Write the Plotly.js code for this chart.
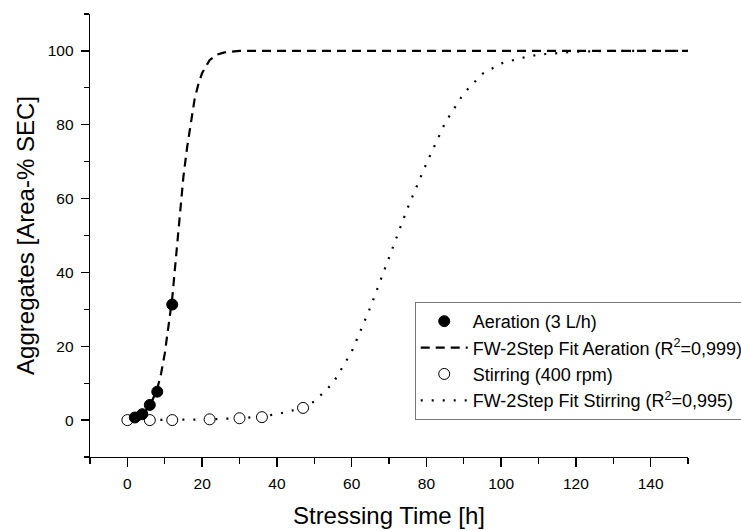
<!DOCTYPE html>
<html>
<head>
<meta charset="utf-8">
<script src="https://cdn.plot.ly/plotly-3.0.1.min.js"></script>
<style>html,body{margin:0;padding:0;background:#fff;}#chart{width:741px;height:531px;}</style>
</head>
<body>
<div id="chart"></div>
<script>
// Measured data
const aerX = [2, 4, 6, 8, 12];
const aerY = [0.7, 1.6, 4.1, 7.7, 31.3];
const stirX = [0, 6, 12, 22, 30, 36, 47];
const stirY = [0, 0, 0, 0.2, 0.5, 0.8, 3.3];

// Fit curves
const aerFitX = [0, 2, 4, 6, 8, 9, 10, 11, 12, 13, 14, 15, 16, 17, 18, 19, 20, 22, 24, 26, 28, 30, 60, 100, 150];
const aerFitY = [0, 0.6, 1.6, 3.8, 8.5, 12.5, 18, 25, 33, 44, 56, 66, 74, 81, 87, 91, 94, 97.5, 99, 99.6, 99.9, 100, 100, 100, 100];
const stirFitX = [0, 10, 20, 30, 35, 40, 45, 50, 55, 60, 65, 70, 75, 80, 85, 90, 95, 100, 105, 110, 115, 120, 130, 150];
const stirFitY = [0, 0.05, 0.15, 0.5, 0.9, 1.6, 2.8, 5, 10, 18.5, 30.5, 44, 57.5, 69.5, 80.5, 88.5, 93.8, 96.6, 98, 99, 99.5, 99.8, 100, 100];

const names = [
  'Aeration (3 L/h)',
  'FW-2Step Fit Aeration (R<sup>2</sup>=0,999)',
  'Stirring (400 rpm)',
  'FW-2Step Fit Stirring (R<sup>2</sup>=0,995)'
];

const traces = [
  {x: stirFitX, y: stirFitY, mode: 'lines', name: names[3], legendrank: 4,
   line: {color: '#000', width: 2.2, dash: '2px,9px'}},
  {x: aerFitX, y: aerFitY, mode: 'lines', name: names[1], legendrank: 2,
   line: {color: '#000', width: 2.2, dash: '9px,6px'}},
  {x: stirX, y: stirY, mode: 'markers', name: names[2], legendrank: 3,
   marker: {symbol: 'circle', size: 11, color: '#fff', line: {color: '#000', width: 1}}},
  {x: aerX, y: aerY, mode: 'markers', name: names[0], legendrank: 1,
   marker: {symbol: 'circle', size: 11, color: '#000', line: {color: '#000', width: 1}}}
];

const font = 'Liberation Sans, Arial, sans-serif';

const layout = {
  width: 741, height: 531,
  margin: {l: 90, r: 53, t: 14, b: 74, autoexpand: false},
  paper_bgcolor: '#fff', plot_bgcolor: '#fff',
  font: {family: font, color: '#000', size: 15},
  showlegend: true,
  legend: {
    x: 0.543, y: 0.35, xanchor: 'left', yanchor: 'top',
    bgcolor: '#fff', bordercolor: '#777', borderwidth: 1,
    font: {family: font, size: 18, color: '#000'},
    traceorder: 'normal', itemwidth: 47, tracegroupgap: 0
  },
  xaxis: {
    range: [-10, 150], tick0: 0, dtick: 20,
    showgrid: false, zeroline: false,
    showline: true, linecolor: '#000', linewidth: 1.3,
    ticks: 'outside', ticklen: 9, tickwidth: 1.3, tickcolor: '#000',
    ticklabelstandoff: 3,
    minor: {tick0: 0, dtick: 10, ticks: 'outside', ticklen: 6, tickwidth: 1.3, tickcolor: '#000', showgrid: false},
    tickfont: {family: font, size: 15.5},
    title: {text: 'Stressing Time [h]', font: {family: font, size: 24}, standoff: 16}
  },
  yaxis: {
    range: [-10, 110], tick0: 0, dtick: 20,
    showgrid: false, zeroline: false,
    showline: true, linecolor: '#000', linewidth: 1.3,
    ticks: 'outside', ticklen: 8, tickwidth: 1.3, tickcolor: '#000',
    ticklabelstandoff: 4,
    minor: {tick0: 0, dtick: 10, ticks: 'outside', ticklen: 4.5, tickwidth: 1.3, tickcolor: '#000', showgrid: false},
    tickfont: {family: font, size: 15.5},
    title: {text: 'Aggregates [Area-% SEC]', font: {family: font, size: 24}, standoff: 6}
  }
};

Plotly.newPlot('chart', traces, layout, {displayModeBar: false, staticPlot: true});
</script>
</body>
</html>
